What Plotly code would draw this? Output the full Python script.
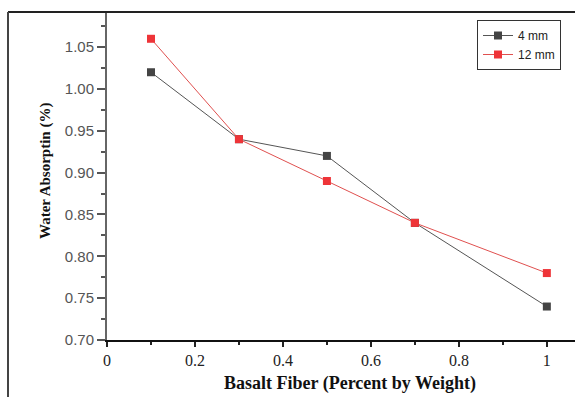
import plotly.graph_objects as go

x_vals = [0.1, 0.3, 0.5, 0.7, 1.0]
y_4mm = [1.02, 0.94, 0.92, 0.84, 0.74]
y_12mm = [1.06, 0.94, 0.89, 0.84, 0.78]
series_names = ["4 mm", "12 mm"]
x_ticks = [0, 0.2, 0.4, 0.6, 0.8, 1.0]
x_tick_text = ["0", "0.2", "0.4", "0.6", "0.8", "1"]
y_ticks = [0.70, 0.75, 0.80, 0.85, 0.90, 0.95, 1.00, 1.05]

W, H = 575, 397
L, R, T, B = 107, 0, 12, 57
pw, ph = W - L - R, H - T - B

fig = go.Figure()
fig.add_trace(go.Scatter(x=x_vals, y=y_4mm, name=series_names[0], mode="lines+markers",
                         line=dict(color="#555555", width=1),
                         marker=dict(symbol="square", size=8, color="#444444")))
fig.add_trace(go.Scatter(x=x_vals, y=y_12mm, name=series_names[1], mode="lines+markers",
                         line=dict(color="#e0504f", width=1),
                         marker=dict(symbol="square", size=8, color="#ee3438")))

fig.update_layout(
    width=W, height=H,
    margin=dict(l=L, r=R, t=T, b=B, pad=0),
    paper_bgcolor="white", plot_bgcolor="white",
    showlegend=True,
    legend=dict(x=(477 - L) / pw, y=(H - B - 20) / ph, xanchor="left", yanchor="top",
                bordercolor="#333333", borderwidth=1, bgcolor="white",
                font=dict(family="Liberation Sans", size=12, color="#222222"),
                itemwidth=30, tracegroupgap=0),
    xaxis=dict(range=[0, 1.064], tickvals=x_ticks, ticktext=x_tick_text,
               showgrid=False, zeroline=False, showline=True, linecolor="#111111", linewidth=2,
               ticks="outside", ticklen=5, tickwidth=1.5, tickcolor="#222222",
               minor=dict(dtick=0.1, ticks="outside", ticklen=3, tickcolor="#222222", showgrid=False),
               tickfont=dict(family="Liberation Serif", size=16, color="#222222")),
    yaxis=dict(range=[0.70, 1.092], tickvals=y_ticks, tickformat=".2f",
               showgrid=False, zeroline=False, showline=True, linecolor="#666666", linewidth=2,
               ticks="outside", ticklen=8, tickwidth=1.5, tickcolor="#555555",
               minor=dict(dtick=0.025, ticks="outside", ticklen=4, tickcolor="#555555", showgrid=False),
               tickfont=dict(family="Liberation Sans", size=15, color="#555555")),
)

# outer frame lines (top and left)
fig.add_shape(type="line", xref="paper", yref="paper",
              x0=(8 - L) / pw, x1=1.0, y0=1.0, y1=1.0,
              line=dict(color="#222222", width=2))
fig.add_shape(type="line", xref="paper", yref="paper",
              x0=(8 - L) / pw, x1=(8 - L) / pw, y0=1.0, y1=-(B + 5) / ph,
              line=dict(color="#444444", width=2))

# axis titles
fig.add_annotation(text="<b>Basalt Fiber (Percent by Weight)</b>", xref="paper", yref="paper",
                   x=(350 - L) / pw, y=-(383 - T - ph) / ph, xanchor="center", yanchor="middle",
                   showarrow=False, font=dict(family="Liberation Serif", size=18, color="#111111"))
fig.add_annotation(text="<b>Water Absorptin (%)</b>", xref="paper", yref="paper",
                   x=(45 - L) / pw, y=(H - B - 171) / ph, xanchor="center", yanchor="middle",
                   textangle=-90, showarrow=False,
                   font=dict(family="Liberation Serif", size=15, color="#111111"))

fig.write_html("out.html")
